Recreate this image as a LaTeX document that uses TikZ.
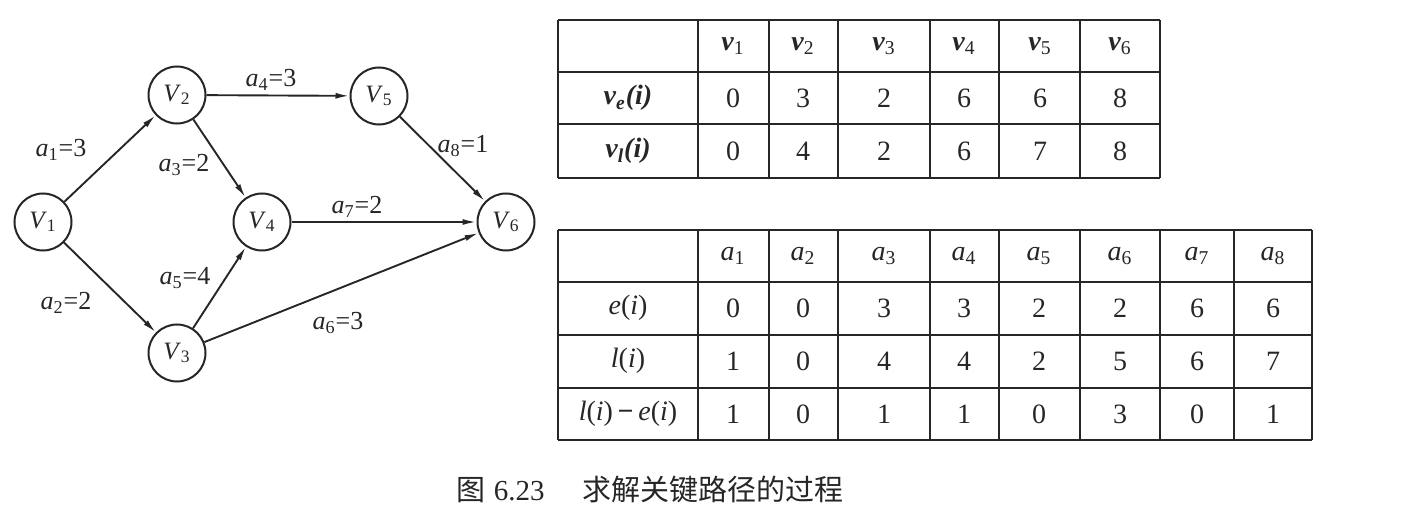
\documentclass[tikz,border=0pt]{standalone}
\usepackage{fontspec}
\setmainfont{Liberation Serif}
\newfontfamily\cjk{Noto Sans CJK SC}
\usetikzlibrary{arrows.meta}
\colorlet{ink}{black!85}
\newcommand{\Vn}[1]{\textit{V}\textsubscript{#1}}
\newcommand{\an}[1]{\textit{a}\textsubscript{#1}}
\newcommand{\vb}[1]{\textbf{\textit{v}}\textsubscript{#1}}

\begin{document}
\begin{tikzpicture}[x=0.5pt, y=-0.5pt, >={Latex[length=7pt,width=3pt]},
                    ink, text=ink,
                    vtx/.style={circle, draw, line width=1pt, minimum size=28.5pt,
                                inner sep=0pt, font=\fontsize{12.5}{14}\selectfont},
                    wt/.style={inner sep=1pt, font=\fontsize{13}{15}\selectfont},
                    arc/.style={->, line width=0.95pt},
                    rule/.style={line width=1.1pt},
                    cell/.style={inner sep=0pt, font=\fontsize{14}{16}\selectfont}]
  \useasboundingbox (0,0) rectangle (1404,524);
  % the network
  \node[vtx] (V1) at (43,222) {\Vn{1}};
  \node[vtx] (V2) at (177,95) {\Vn{2}};
  \node[vtx] (V3) at (177,353) {\Vn{3}};
  \node[vtx] (V4) at (262,222) {\Vn{4}};
  \node[vtx] (V5) at (379,96) {\Vn{5}};
  \node[vtx] (V6) at (506,222) {\Vn{6}};
  \draw[arc] (V1) -- (V2);
  \draw[arc] (V1) -- (V3);
  \draw[arc] (V2) -- (V4);
  \draw[arc] (V2) -- (V5);
  \draw[arc] (V3) -- (V4);
  \draw[arc] (V3) -- (V6);
  \draw[arc] (V4) -- (V6);
  \draw[arc] (V5) -- (V6);
  \node[wt] (w1) at (61,150) {\an{1}=3};
  \node[wt] (w2) at (66,303) {\an{2}=2};
  \node[wt] (w3) at (184,165) {\an{3}=2};
  \node[wt] (w4) at (271,80) {\an{4}=3};
  \node[wt] (w5) at (185,278) {\an{5}=4};
  \node[wt] (w6) at (338,323) {\an{6}=3};
  \node[wt] (w7) at (357,207) {\an{7}=2};
  \node[wt] (w8) at (463,146) {\an{8}=1};
  % table of vertex times
  \foreach \x in {558,698,769,838,930,999,1080,1160}
    \draw[rule] (\x,20) -- (\x,178);
  \foreach \y in {20,72,124,178}
    \draw[rule] (558,\y) -- (1160,\y);
  \node[cell] (vehead) at (628,98) {\textbf{\textit{v\textsubscript{e}(i)}}};
  \node[cell] (vlhead) at (628,151) {\textbf{\textit{v\textsubscript{l}(i)}}};
  \foreach \cx/\e/\l [count=\j] in {733/0/0, 803/3/4, 884/2/2, 964/6/6, 1040/6/7, 1120/8/8} {
    \node[cell] (hv\j) at (\cx,46) {\vb{\j}};
    \node[cell] (ve\j) at (\cx,98) {\e};
    \node[cell] (vl\j) at (\cx,151) {\l};
  }
  % table of activity times
  \foreach \x in {558,698,769,838,930,999,1080,1160,1234,1312}
    \draw[rule] (\x,230) -- (\x,440);
  \foreach \y in {230,282,335,388,440}
    \draw[rule] (558,\y) -- (1312,\y);
  \node[cell] (ehead) at (628,308) {\textit{e}(\textit{i})};
  \node[cell] (lhead) at (628,361) {\textit{l}(\textit{i})};
  \node[cell] (dhead) at (628,414) {\textit{l}(\textit{i})\,\textbf{−}\,\textit{e}(\textit{i})};
  \foreach \cx/\e/\l/\d [count=\j] in {733/0/1/1, 803/0/0/0, 884/3/4/1, 964/3/4/1,
                                      1039/2/2/0, 1120/2/5/3, 1197/6/6/0, 1273/6/7/1} {
    \node[cell] (ha\j) at (\cx,256) {\an{\j}};
    \node[cell] (e\j) at (\cx,308) {\e};
    \node[cell] (l\j) at (\cx,361) {\l};
    \node[cell] (d\j) at (\cx,414) {\d};
  }
  % caption
  \node[font=\fontsize{14.5}{16}\selectfont] (cap) at (650,489)
    {{\cjk 图}\hspace{4pt}6.23\hspace{1.3em}{\cjk 求解关键路径的过程}};
\end{tikzpicture}
\end{document}
